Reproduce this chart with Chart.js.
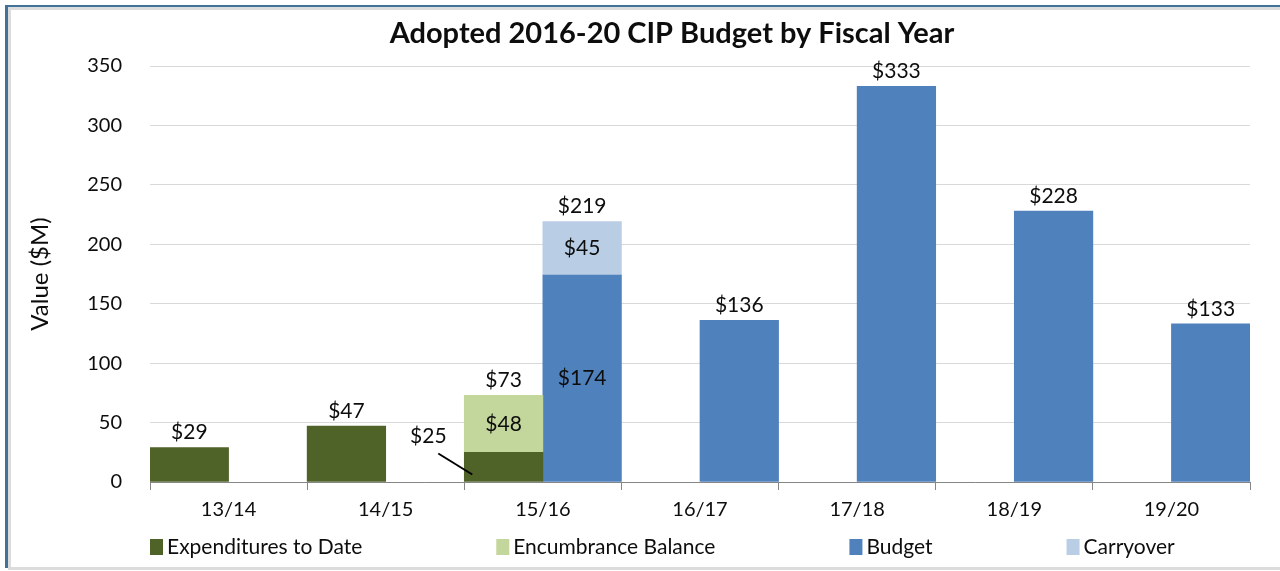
<!DOCTYPE html>
<html>
<head>
<meta charset="utf-8">
<title>Adopted 2016-20 CIP Budget by Fiscal Year</title>
<script src="https://cdn.jsdelivr.net/npm/chart.js@4/dist/chart.umd.min.js"></script>
<style>
    body { margin: 0; background: #fff; }
    #wrap { position: relative; width: 1280px; height: 571px; overflow: hidden; }
    #myChart { position: absolute; left: 0; top: 0; }
    /* chart frame: blue top/left edge with a grey inner shade */
    .frame { position: absolute; left: 5px; top: 5px; width: 1290px; height: 561px;
             border-top: 2px solid #41729b; border-left: 3px solid #41729b;
             box-shadow: inset 3px 3px 0 #dcdcdc; pointer-events: none; }
    .frame-bottom { position: absolute; left: 8px; top: 567px; width: 1280px; height: 3px; background: #dcdcdc; }
</style>
</head>
<body>
<div id="wrap">
    <canvas id="myChart" width="1280" height="571"></canvas>
    <div class="frame"></div>
    <div class="frame-bottom"></div>
</div>
<script>
const years        = ['13/14', '14/15', '15/16', '16/17', '17/18', '18/19', '19/20'];
const expenditures = [29, 47, 25, null, null, null, null];
const encumbrance  = [null, null, 48, null, null, null, null];
const budget       = [null, null, 174, 136, 333, 228, 133];
const carryover    = [null, null, 45, null, null, null, null];
const yTicks       = [0, 50, 100, 150, 200, 250, 300, 350];

const TITLE = 'Adopted 2016-20 CIP Budget by Fiscal Year';
const FONT  = 'Lato, "Open Sans", sans-serif';
const INK   = '#0d0d0d';
Chart.defaults.font.family = FONT;
Chart.defaults.color = INK;

const money = (v) => '$' + v;

// value labels: single bars get the value on top, stacked segments get it
// centred plus a total above the stack; "callout" segments sit to the left
const valueLabels = {
    id: 'valueLabels',
    afterDatasetsDraw(chart) {
        const ctx = chart.ctx;
        ctx.save();
        ctx.font = '21px ' + FONT;
        ctx.fillStyle = INK;
        ctx.textAlign = 'center';
        ctx.textBaseline = 'middle';

        const stacks = {};
        chart.data.datasets.forEach((ds, di) => {
            const meta = chart.getDatasetMeta(di);
            ds.data.forEach((v, i) => {
                if (v === null) return;
                const key = ds.stack + '|' + i;
                if (!stacks[key]) stacks[key] = [];
                stacks[key].push({ ds: ds, bar: meta.data[i], value: v });
            });
        });

        Object.values(stacks).forEach((parts) => {
            if (parts.length === 1) {
                const b = parts[0].bar;
                ctx.fillText(money(parts[0].value), b.x, b.y - 15);
                return;
            }
            let total = 0;
            let top = Infinity;
            let x = 0;
            parts.forEach((p) => {
                const b = p.bar;
                total += p.value;
                top = Math.min(top, b.y);
                x = b.x;
                if (p.ds.callout) {
                    const left = b.x - b.width / 2;
                    ctx.fillText(money(p.value), left - 36, b.base - 45);
                    ctx.beginPath();
                    ctx.strokeStyle = '#000';
                    ctx.lineWidth = 2;
                    ctx.moveTo(left - 26, b.base - 28);
                    ctx.lineTo(left + 8, b.base - 7);
                    ctx.stroke();
                } else {
                    ctx.fillText(money(p.value), b.x, (b.y + b.base) / 2);
                }
            });
            ctx.fillText(money(total), x, top - 15);
        });
        ctx.restore();
    }
};

// title and legend row, placed by hand
const titleAndLegend = {
    id: 'titleAndLegend',
    afterDraw(chart) {
        const ctx = chart.ctx;
        ctx.save();
        ctx.fillStyle = INK;
        ctx.textBaseline = 'middle';
        ctx.textAlign = 'center';
        ctx.font = 'bold 29px ' + FONT;
        ctx.fillText(TITLE, 672, 34);

        ctx.font = '21px ' + FONT;
        ctx.textAlign = 'left';
        let x = chart.chartArea.left;
        const y = 547;
        chart.data.datasets.forEach((ds) => {
            ctx.fillStyle = ds.backgroundColor;
            ctx.fillRect(x, y - 8, 13, 16);
            ctx.fillStyle = INK;
            ctx.fillText(ds.label, x + 17, y);
            x += 17 + ctx.measureText(ds.label).width + 134;
        });
        ctx.restore();
    }
};

new Chart(document.getElementById('myChart'), {
    type: 'bar',
    data: {
        labels: years,
        datasets: [
            { label: 'Expenditures to Date', data: expenditures, stack: 'spent', backgroundColor: '#4f6228', callout: true },
            { label: 'Encumbrance Balance',  data: encumbrance,  stack: 'spent', backgroundColor: '#c3d69b' },
            { label: 'Budget',               data: budget,       stack: 'plan',  backgroundColor: '#4f81bd' },
            { label: 'Carryover',            data: carryover,    stack: 'plan',  backgroundColor: '#b9cde5' }
        ]
    },
    options: {
        responsive: false,
        animation: false,
        devicePixelRatio: 1,
        layout: { padding: { left: 12, right: 30, top: 66, bottom: 50 } },
        datasets: {
            bar: { barPercentage: 1, categoryPercentage: 1, skipNull: false }
        },
        plugins: {
            legend: { display: false },
            tooltip: { enabled: false },
            title: { display: false }
        },
        scales: {
            x: {
                stacked: true,
                grid: { drawOnChartArea: false, drawTicks: true, tickLength: 8, color: '#868686' },
                border: { color: '#868686', width: 1 },
                ticks: { font: { size: 20 }, padding: 8, color: INK },
                afterFit: (scale) => { scale.height = 39; }
            },
            y: {
                stacked: true,
                min: 0,
                max: 350,
                afterBuildTicks: (scale) => { scale.ticks = yTicks.map((v) => ({ value: v })); },
                grid: { color: '#d9d9d9', drawTicks: false },
                border: { display: false },
                ticks: { font: { size: 20 }, padding: 28, color: INK },
                title: { display: true, text: 'Value ($M)', font: { size: 24 }, color: INK, padding: { top: 14, bottom: 0 } },
                afterFit: (scale) => { scale.width = 138; }
            }
        }
    },
    plugins: [valueLabels, titleAndLegend]
});
</script>
</body>
</html>
